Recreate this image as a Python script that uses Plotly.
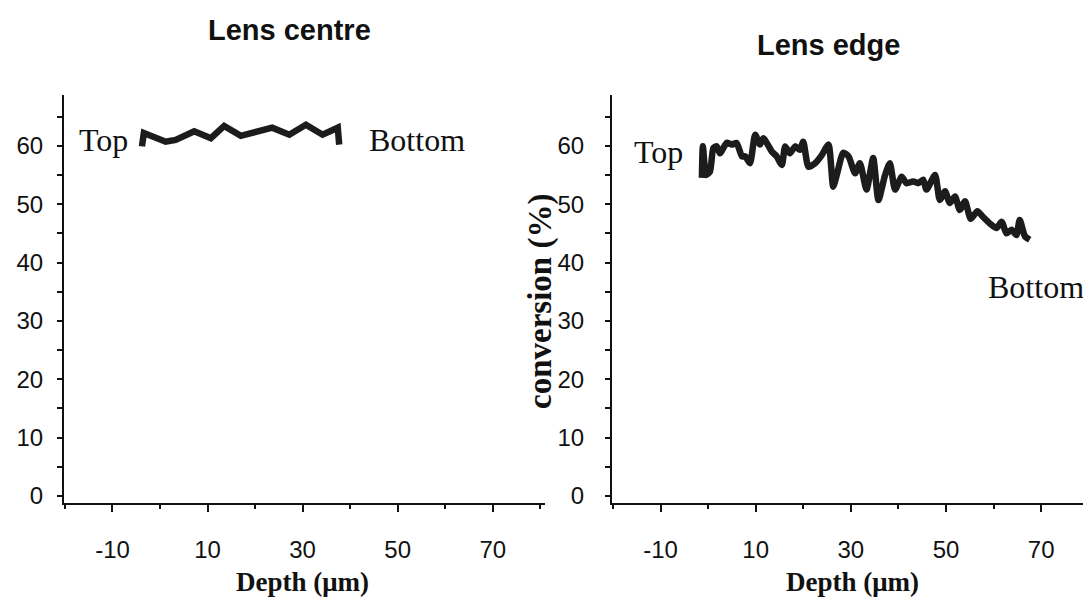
import plotly.graph_objects as go

# ---- data ----
centre_depth = [-3.8, -3.4, 1.2, 3.3, 7.2, 10.7, 13.5, 17.0, 23.6, 27.2, 30.7, 34.2, 37.4, 37.7]
centre_conv = [59.9, 62.2, 60.7, 61.0, 62.5, 61.3, 63.4, 61.7, 63.1, 61.9, 63.6, 61.9, 63.1, 60.2]

edge_depth = [-1.3, -1.1, -0.4, 0.4, 1.1, 1.8, 2.5, 3.9, 5.0, 6.0, 7.1, 7.8, 8.8, 9.9, 10.9,
              11.6, 13.4, 14.4, 15.5, 16.2, 17.2, 18.3, 19.3, 20.0, 21.1, 22.5, 23.9, 25.3,
              26.3, 27.2, 28.4, 29.5, 30.9, 31.9, 33.3, 34.7, 35.8, 37.2, 38.2, 39.3, 40.7,
              41.7, 43.1, 44.2, 45.2, 45.9, 47.7, 48.7, 49.8, 50.8, 51.9, 52.9, 54.0, 55.2,
              56.6, 57.8, 59.2, 60.6, 61.7, 62.7, 63.8, 64.8, 65.5, 66.6, 67.6]
edge_conv = [54.5, 59.9, 55.0, 55.6, 59.6, 59.9, 58.7, 60.5, 60.2, 60.5, 58.2, 58.2, 57.0, 61.9, 60.2,
             61.3, 59.0, 58.2, 56.7, 59.9, 58.7, 59.9, 59.3, 60.7, 56.4, 57.0, 58.4, 60.2,
             53.0, 55.5, 58.8, 58.2, 55.3, 57.0, 52.5, 57.9, 50.7, 55.0, 57.0, 52.5, 54.7,
             53.6, 53.9, 53.6, 54.2, 52.5, 55.0, 50.7, 52.2, 50.2, 51.3, 49.0, 50.5, 47.5,
             48.8, 47.8, 46.7, 45.9, 47.0, 45.0, 45.6, 44.7, 47.3, 44.5, 43.9]

y_tickvals = [0, 5, 10, 15, 20, 25, 30, 35, 40, 45, 50, 55, 60, 65]
y_ticktext = ["0", "", "10", "", "20", "", "30", "", "40", "", "50", "", "60", ""]
x_tickvals = [-10, 10, 30, 50, 70]
x_ticktext = ["-10", "10", "30", "50", "70"]

panel_titles = ["Lens centre", "Lens edge"]
x_title = "Depth (\u03bcm)"
y_title = "conversion (%)"

LINE = "#1c1c1c"
SANS = "Liberation Sans, Arial, sans-serif"
SERIF = "Liberation Serif, Times New Roman, serif"

fig = go.Figure()
fig.add_trace(go.Scatter(x=centre_depth, y=centre_conv, mode="lines",
                         line=dict(color=LINE, width=6.5), xaxis="x", yaxis="y",
                         showlegend=False))
fig.add_trace(go.Scatter(x=edge_depth, y=edge_conv, mode="lines",
                         line=dict(color=LINE, width=6.5, shape="spline", smoothing=0.6),
                         xaxis="x2", yaxis="y2", showlegend=False))

W, H = 1083, 604
ydom = [(H - 503) / H, (H - 95) / H]

def xaxis_cfg(domain, rng, anchor):
    return dict(domain=domain, range=rng, anchor=anchor, showgrid=False, zeroline=False,
                automargin=False,
                showline=True, linecolor="#111", linewidth=2,
                tickmode="array", tickvals=x_tickvals, ticktext=x_ticktext,
                ticks="outside", ticklen=7, tickwidth=2, tickcolor="#111",
                minor=dict(tick0=-20, dtick=20, ticks="outside", ticklen=4,
                           tickwidth=2, tickcolor="#111"),
                ticklabelstandoff=17,
                tickfont=dict(family=SANS, size=24, color="#111"))

def yaxis_cfg(anchor, standoff):
    return dict(domain=ydom, range=[-1.2, 68.7], anchor=anchor, showgrid=False, zeroline=False,
                automargin=False,
                showline=True, linecolor="#111", linewidth=2,
                tickmode="array", tickvals=y_tickvals, ticktext=y_ticktext,
                ticks="outside", ticklen=5, tickwidth=2, tickcolor="#111",
                ticklabelstandoff=standoff,
                tickfont=dict(family=SANS, size=24, color="#111"))

fig.update_layout(
    width=W, height=H, margin=dict(l=0, r=0, t=0, b=0, autoexpand=False),
    paper_bgcolor="white", plot_bgcolor="white",
    xaxis=xaxis_cfg([64 / W, 545 / W], [-20.2, 81.0], "y"),
    yaxis=yaxis_cfg("x", 9),
    xaxis2=xaxis_cfg([612 / W, 1.0], [-20.2, 78.8], "y2"),
    yaxis2=yaxis_cfg("x2", 16),
)

ann = []
ann.append(dict(text="<b>" + panel_titles[0] + "</b>", x=289 / W, y=(H - 30) / H,
                xref="paper", yref="paper",
                showarrow=False, font=dict(family=SANS, size=29, color="#111"),
                xanchor="center", yanchor="middle"))
ann.append(dict(text="<b>" + panel_titles[1] + "</b>", x=828 / W, y=(H - 45) / H,
                xref="paper", yref="paper",
                showarrow=False, font=dict(family=SANS, size=29, color="#111"),
                xanchor="center", yanchor="middle"))
for cx in (302, 852):
    ann.append(dict(text="<b>" + x_title + "</b>", x=cx / W, y=(H - 582) / H,
                    xref="paper", yref="paper", showarrow=False,
                    font=dict(family=SERIF, size=27, color="#111"),
                    xanchor="center", yanchor="middle"))
ann.append(dict(text="<b>" + y_title + "</b>", x=540 / W, y=(H - 302) / H, xref="paper", yref="paper",
                showarrow=False, textangle=-90, font=dict(family=SERIF, size=33, color="#111"),
                xanchor="center", yanchor="middle"))
# Top / Bottom labels
ann.append(dict(text="Top", x=-11.8, y=61.0, xref="x", yref="y", showarrow=False,
                font=dict(family=SERIF, size=32, color="#111")))
ann.append(dict(text="Bottom", x=54.1, y=61.0, xref="x", yref="y", showarrow=False,
                font=dict(family=SERIF, size=32, color="#111")))
ann.append(dict(text="Top", x=-10.5, y=59.0, xref="x2", yref="y2", showarrow=False,
                font=dict(family=SERIF, size=32, color="#111")))
ann.append(dict(text="Bottom", x=68.9, y=35.8, xref="x2", yref="y2", showarrow=False,
                font=dict(family=SERIF, size=32, color="#111"), xanchor="center"))
fig.update_layout(annotations=ann)

fig.write_html("out.html", config={"displayModeBar": False},
               post_script="document.body.style.margin='0';document.body.style.overflow='hidden';")
